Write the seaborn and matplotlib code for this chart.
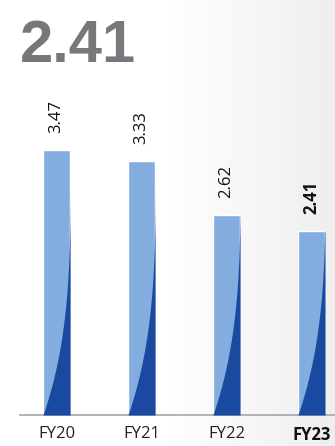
import numpy as np
import pandas as pd
import matplotlib
matplotlib.use("Agg")
import matplotlib.pyplot as plt
import seaborn as sns

# ---- data ----
years = ["FY20", "FY21", "FY22", "FY23"]
values = [3.47, 3.33, 2.62, 2.41]
labels = ["3.47", "3.33", "2.62", "2.41"]
headline = "2.41"

LIGHT = "#84ADDF"
DARK = "#1A4AA0"

sns.set_theme(style="white")
plt.rcParams["font.family"] = ["Open Sans", "DejaVu Sans"]

fig = plt.figure(figsize=(3.35, 4.46), dpi=100)
fig.patch.set_facecolor("white")

# background gradient (white on the left, light grey on the right)
bg = fig.add_axes([0, 0, 1, 1], zorder=0)
grad = np.linspace(0, 1, 335)
grad = np.clip((grad - 0.5) / 0.5, 0, 1)
col = 1.0 - 0.065 * grad
img = np.repeat(col[None, :], 10, axis=0)
bg.imshow(np.dstack([img, img, img]), aspect="auto", extent=[0, 1, 0, 1],
          vmin=0, vmax=1)
bg.set_axis_off()

ax = fig.add_axes([20 / 335, 31 / 446, 315 / 335, 335 / 446], zorder=1)
ax.patch.set_alpha(0)

df = pd.DataFrame({"year": years, "value": values})
sns.barplot(data=df, x="year", y="value", color=LIGHT, width=0.32,
            saturation=1, ax=ax, zorder=2)

ax.set_xlim(-0.43, 3.277)
ax.set_ylim(0, 4.385)

# dark curved shading at the base of each bar
H = 3.3
k = 3.2
for p in ax.patches:
    x0 = p.get_x()
    w = p.get_width()
    h = p.get_height()
    yy = np.linspace(0, h, 300)
    frac = 1 - np.clip(1 - yy / H, 0, 1) ** k
    ax.fill_betweenx(yy, x0 + w * frac, x0 + w, color=DARK, lw=0, zorder=3)

# value labels
for i, (v, lab) in enumerate(zip(values, labels)):
    last = i == len(values) - 1
    ax.text(i, v + 0.22, lab, rotation=90, ha="center", va="bottom",
            fontsize=12, color="#111111",
            fontweight="bold" if last else "normal", zorder=4)

ax.set_xlabel("")
ax.set_ylabel("")
ax.set_yticks([])
ax.set_xticks(range(len(years)))
ax.set_xticklabels(years, fontsize=12, color="#222222")
ax.tick_params(axis="x", length=0, pad=8)
ax.get_xticklabels()[-1].set_fontweight("bold")
ax.get_xticklabels()[-1].set_color("#111111")

for s in ["top", "right", "left"]:
    ax.spines[s].set_visible(False)
ax.spines["bottom"].set_color("#A6A6A6")
ax.spines["bottom"].set_linewidth(1.2)

fig.text(20 / 335, 1 - 62 / 446, headline, fontsize=43, fontweight="bold",
         color="#77787B", family=["Liberation Sans", "DejaVu Sans"],
         ha="left", va="baseline")

fig.savefig("out.png", dpi=100)
